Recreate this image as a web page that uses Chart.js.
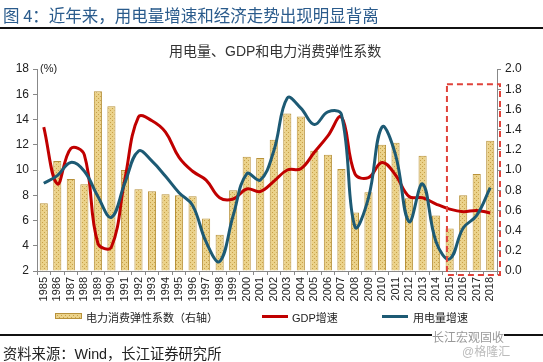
<!DOCTYPE html>
<html><head><meta charset="utf-8">
<script src="https://cdn.jsdelivr.net/npm/chart.js@4.4.1/dist/chart.umd.min.js"></script>
<style>
html,body{margin:0;padding:0;background:#fff;}
#wrap{position:relative;width:543px;height:362px;overflow:hidden;font-family:"Liberation Sans","Noto Sans CJK SC",sans-serif;}
#c{position:absolute;left:0;top:0;}
.abs{position:absolute;white-space:nowrap;}
</style></head><body>
<div id="wrap">
<canvas id="c" width="543" height="362"></canvas>
<div class="abs" style="left:3px;top:3px;font-size:16.5px;color:#2a5b8c;font-family:'Noto Sans CJK SC',sans-serif;">图 4：近年来，用电量增速和经济走势出现明显背离</div>
<div class="abs" style="left:0;top:27px;width:543px;height:2px;background:#111;"></div>
<div class="abs" style="left:169px;top:40px;font-size:14px;color:#333;font-family:'Liberation Sans','Noto Sans CJK SC',sans-serif;">用电量、GDP和电力消费弹性系数</div>
<div class="abs" style="left:40px;top:62px;font-size:11px;color:#222;">(%)</div>
<canvas id="sw" width="27" height="6" class="abs" style="left:55px;top:313px;"></canvas>
<div class="abs" style="left:86px;top:309px;font-size:11px;color:#222;">电力消费弹性系数（右轴）</div>
<div class="abs" style="left:262px;top:315px;width:26px;height:3px;background:#C00000;"></div>
<div class="abs" style="left:292px;top:309px;font-size:11px;color:#222;">GDP增速</div>
<div class="abs" style="left:382px;top:315px;width:26px;height:3px;background:#1D5A74;"></div>
<div class="abs" style="left:413px;top:309px;font-size:11px;color:#222;">用电量增速</div>
<div class="abs" style="left:0;top:334px;width:543px;height:2px;background:#111;"></div>
<div class="abs" style="left:3px;top:342px;font-size:14.3px;color:#222;">资料来源：Wind，长江证券研究所</div>
<div class="abs" style="left:432px;top:328px;font-size:12px;color:#999;background:#fff;">长江宏观固收</div>
<div class="abs" style="left:462px;top:342px;font-size:12px;color:#bbb;">@格隆汇</div>
</div>
<script>
const years = ['1985','1986','1987','1988','1989','1990','1991','1992','1993','1994','1995','1996','1997','1998','1999','2000','2001','2002','2003','2004','2005','2006','2007','2008','2009','2010','2011','2012','2013','2014','2015','2016','2017','2018'];
const elasticity = [0.67,1.09,0.91,0.86,1.78,1.63,1.00,0.81,0.79,0.76,0.75,0.74,0.52,0.36,0.80,1.13,1.12,1.30,1.56,1.53,1.19,1.15,1.01,0.58,0.78,1.25,1.27,0.72,1.14,0.55,0.42,0.75,0.96,1.29];
const gdpGrowth = [13.4,8.9,11.7,11.2,4.2,3.9,9.3,14.2,13.9,13.0,11.0,9.9,9.2,7.8,7.7,8.5,8.3,9.1,10.0,10.1,11.4,12.7,14.2,9.7,9.4,10.6,9.6,7.9,7.8,7.3,6.9,6.7,6.8,6.6];
const powerGrowth = [8.95,9.55,10.6,9.9,7.9,6.25,9.0,11.5,10.7,9.5,8.2,7.2,4.3,2.75,6.4,9.7,9.2,11.5,15.7,14.9,13.6,14.6,14.4,5.5,7.8,13.4,11.2,5.9,8.9,4.3,2.95,5.4,6.4,8.6];
const leftTicks = [2,4,6,8,10,12,14,16,18];
const rightTicks = [0,0.2,0.4,0.6,0.8,1.0,1.2,1.4,1.6,1.8,2.0];

function makePattern(ctx){
  const p = document.createElement('canvas'); p.width=4; p.height=4;
  const g = p.getContext('2d');
  g.fillStyle='#EBD28A'; g.fillRect(0,0,4,4);
  g.fillStyle='#C7A048';
  g.fillRect(0,0,1,1); g.fillRect(2,2,1,1);
  return ctx.createPattern(p,'repeat');
}
(function(){
  const s=document.getElementById('sw').getContext('2d');
  s.fillStyle=makePattern(s); s.fillRect(0,0,27,6);
  s.strokeStyle='#B8923A'; s.lineWidth=1; s.strokeRect(0.5,0.5,26,5);
})();

const ctx = document.getElementById('c').getContext('2d');
const boxPlugin = {
  id:'box',
  afterDraw(chart){
    const x = chart.scales.x, y1 = chart.scales.y1, a = chart.chartArea, c = chart.ctx;
    const left = x.getPixelForValue(29.8), top = y1.getPixelForValue(1.85);
    const right = a.right + 3, bottom = a.bottom + 4;
    c.save(); c.strokeStyle='#E0423A'; c.lineWidth=2; c.setLineDash([6,4]);
    c.strokeRect(left, top, right-left, bottom-top); c.restore();
  }
};
const tickFont = {family:"'Liberation Sans', Arial, sans-serif", size:11};
new Chart(ctx,{
  data:{
    labels: years,
    datasets:[
      {type:'line', label:'用电量增速', data: powerGrowth, yAxisID:'y', borderColor:'#1D5A74', borderWidth:3, pointRadius:0, tension:0.4, order:1},
      {type:'line', label:'GDP增速', data: gdpGrowth, yAxisID:'y', borderColor:'#C00000', borderWidth:3, pointRadius:0, tension:0.4, order:2},
      {type:'bar', label:'电力消费弹性系数（右轴）', data: elasticity, yAxisID:'y1', backgroundColor: makePattern(ctx), borderColor:'#B8923A', borderWidth:1, barPercentage:0.6, categoryPercentage:1, order:3}
    ]
  },
  options:{
    responsive:false, devicePixelRatio:1, animation:false,
    layout:{padding:{top:69,bottom:50,left:0,right:0}},
    plugins:{legend:{display:false}, tooltip:{enabled:false}},
    scales:{
      x:{
        offset:true,
        grid:{display:true, drawOnChartArea:false, drawTicks:true, tickLength:4, color:'#888', offset:true},
        border:{display:true, color:'#888'},
        ticks:{autoSkip:false, minRotation:90, maxRotation:90, font:tickFont, color:'#222', padding:2},
        afterFit(s){ s.height = 41; }
      },
      y:{
        position:'left', min:2, max:18,
        afterBuildTicks(s){ s.ticks = leftTicks.map(v=>({value:v})); },
        grid:{drawOnChartArea:false, drawTicks:true, tickLength:4, color:'#888'},
        border:{display:true, color:'#888'},
        ticks:{font:{...tickFont, size:12}, color:'#222', padding:4},
        afterFit(s){ s.width = 37; }
      },
      y1:{
        position:'right', min:0, max:2,
        afterBuildTicks(s){ s.ticks = rightTicks.map(v=>({value:v})); },
        grid:{drawOnChartArea:false, drawTicks:true, tickLength:4, color:'#888'},
        border:{display:true, color:'#888'},
        ticks:{font:{...tickFont, size:12}, color:'#222', padding:4, callback:v=>Number(v).toFixed(1)},
        afterFit(s){ s.width = 46; }
      }
    }
  },
  plugins:[boxPlugin]
});
</script>
</body></html>
